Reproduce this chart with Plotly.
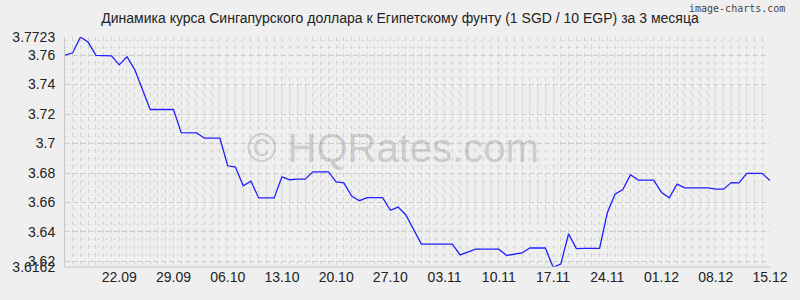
import pandas as pd
import plotly.graph_objects as go

start_date = "2025-09-15"
values = [
    3.7600, 3.7616, 3.7723, 3.7687, 3.7598, 3.7598, 3.7595,
    3.7534, 3.7589, 3.7502, 3.7370, 3.7231, 3.7231, 3.7231,
    3.7231, 3.7074, 3.7074, 3.7072, 3.7036, 3.7036, 3.7036,
    3.6849, 3.6840, 3.6713, 3.6745, 3.6631, 3.6631, 3.6631,
    3.6774, 3.6754, 3.6758, 3.6758, 3.6808, 3.6808, 3.6808,
    3.6740, 3.6733, 3.6644, 3.6612, 3.6633, 3.6633, 3.6633,
    3.6547, 3.6569, 3.6515, 3.6417, 3.6317, 3.6317, 3.6317,
    3.6317, 3.6317, 3.6244, 3.6264, 3.6283, 3.6283, 3.6283,
    3.6283, 3.6240, 3.6247, 3.6257, 3.6291, 3.6291, 3.6291,
    3.6162, 3.6182, 3.6387, 3.6287, 3.6289, 3.6289, 3.6289,
    3.6530, 3.6656, 3.6687, 3.6788, 3.6752, 3.6752, 3.6752,
    3.6667, 3.6631, 3.6724, 3.6699, 3.6699, 3.6699, 3.6699,
    3.6690, 3.6690, 3.6735, 3.6733, 3.6797, 3.6797, 3.6797,
    3.6749,
]
dates = pd.date_range(start_date, periods=len(values), freq="D")

y_min, y_max = 3.6162, 3.7723
y_tickvals = [3.62, 3.64, 3.66, 3.68, 3.70, 3.72, 3.74, 3.76]
y_ticktext = ["3.62", "3.64", "3.66", "3.68", "3.7", "3.72", "3.74", "3.76"]
x_tickdates = pd.date_range("2025-09-22", "2025-12-15", freq="7D")
x_ticktext = [d.strftime("%d.%m") for d in x_tickdates]

title = "Динамика курса Сингапурского доллара к Египетскому фунту (1 SGD / 10 EGP) за 3 месяца"

fig = go.Figure()
fig.add_trace(go.Scatter(x=dates, y=values, mode="lines",
                         line=dict(color="#2020ff", width=1.3),
                         hoverinfo="x+y"))

grid_col = "#d2d2d2"
fig.update_layout(
    width=800, height=300,
    margin=dict(l=60, r=20, t=37, b=33),
    paper_bgcolor="#efefef", plot_bgcolor="#efefef",
    showlegend=False,
    font=dict(family="Liberation Sans, Arial, sans-serif", size=14, color="#222"),
    title=dict(text=title, x=0.5, xanchor="center", y=0.94, yanchor="middle",
               font=dict(size=14, color="#222")),
    xaxis=dict(
        range=[dates[0], dates[-1]],
        tickmode="array", tickvals=list(x_tickdates), ticktext=x_ticktext,
        showgrid=True, gridcolor=grid_col, griddash="4px,4px", gridwidth=1,
        minor=dict(dtick=86400000, showgrid=True, gridcolor=grid_col,
                   griddash="4px,4px", gridwidth=1),
        showline=False, zeroline=False, ticks="", ticklen=0,
        tickfont=dict(size=14, color="#222"),
    ),
    yaxis=dict(
        range=[y_min, y_max],
        tickmode="array",
        tickvals=y_tickvals + [y_min, y_max],
        ticktext=y_ticktext + ["3.6162", "3.7723"],
        showgrid=True, gridcolor="#cccccc", griddash="5px,3px", gridwidth=1,
        minor=dict(dtick=0.005, tick0=3.62, showgrid=True, gridcolor="#dcdcdc",
                   griddash="3px,5px", gridwidth=1),
        showline=True, linecolor="#c8c8c8", linewidth=1, mirror=False,
        zeroline=False, ticks="", ticklabelstandoff=6,
        tickfont=dict(size=14, color="#222"),
    ),
)

fig.add_shape(type="line", xref="paper", yref="paper", x0=0, x1=1, y0=0, y1=0,
              line=dict(color="#c4c4c4", width=1))

fig.add_annotation(text="© HQRates.com", xref="paper", yref="paper",
                   x=(395 - 60) / 720, y=(266.5 - 148) / 229.5,
                   xanchor="center", yanchor="middle", showarrow=False,
                   font=dict(size=40, color="rgba(120,120,120,0.3)",
                             family="Liberation Sans, Arial, sans-serif"))
fig.add_annotation(text="image-charts.com", xref="paper", yref="paper",
                   x=(797 - 60) / 720, y=(266.5 - 9) / 229.5,
                   xanchor="right", yanchor="middle", showarrow=False,
                   font=dict(size=10, color="#444",
                             family="DejaVu Sans Mono, monospace"))

fig.write_html("out.html")
